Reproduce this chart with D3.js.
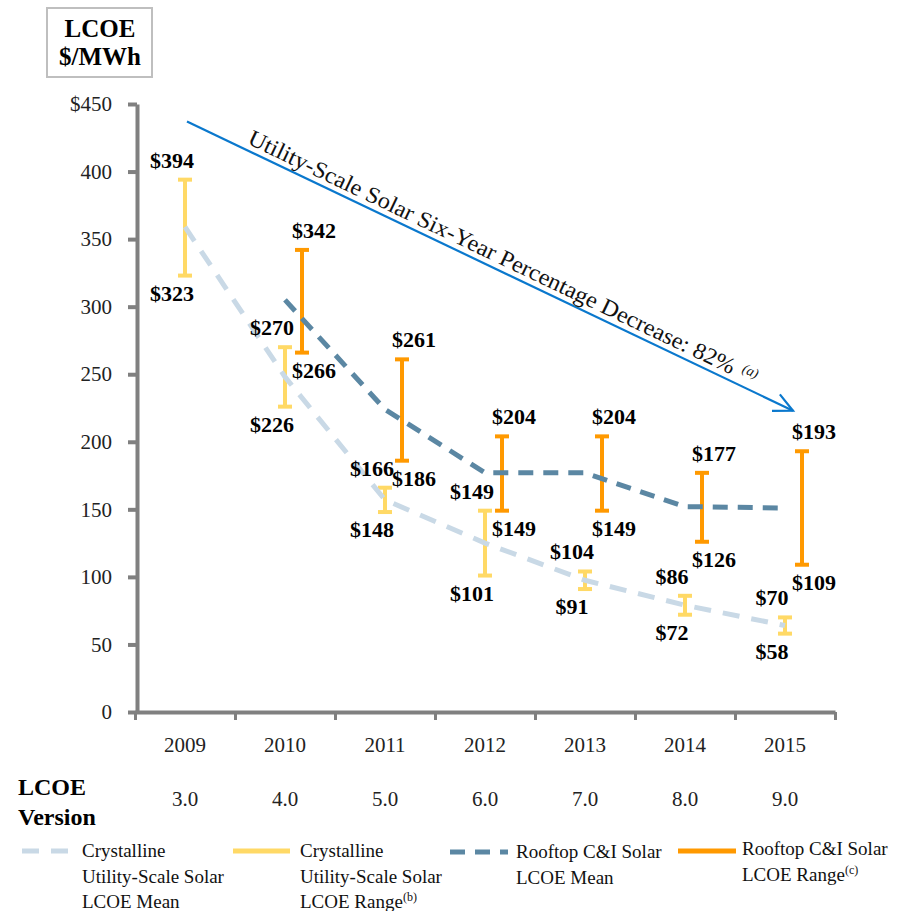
<!DOCTYPE html>
<html><head><meta charset="utf-8">
<script src="https://cdn.jsdelivr.net/npm/d3@7"></script>
<style>
body{margin:0;background:#fff;}
svg text{font-family:"Liberation Serif","Times New Roman",serif !important;}
</style></head>
<body>
<svg id="c" width="919" height="911" font-family="Liberation Serif"></svg>
<script>
const years = ["2009","2010","2011","2012","2013","2014","2015"];
const versions = ["3.0","4.0","5.0","6.0","7.0","8.0","9.0"];
const yTicks = [0,50,100,150,200,250,300,350,400,450];
const utilLow  = [323,226,148,101,91,72,58];
const utilHigh = [394,270,166,149,104,86,70];
const utilMean = [359,248,157,125,97.5,79,64];
const roofLow  = [null,266,186,149,149,126,109];
const roofHigh = [null,342,261,204,204,177,193];
const roofMean = [null,305,224,177,177,152,151];
const arrowText = "Utility-Scale Solar Six-Year Percentage Decrease: 82%";
const legendItems = [
  {lines:["Crystalline","Utility-Scale Solar","LCOE Mean"], sup:null},
  {lines:["Crystalline","Utility-Scale Solar","LCOE Range"], sup:"(b)"},
  {lines:["Rooftop C&I Solar","LCOE Mean"], sup:null},
  {lines:["Rooftop C&I Solar","LCOE Range"], sup:"(c)"}
];

const SERIF = "'Liberation Serif','Times New Roman',serif";
const C = {util:"#C9D9E6", utilBar:"#FFD966", roof:"#5B87A3", roofBar:"#FF9900", arrow:"#0A78CD", axis:"#808080"};
const svg = d3.select("#c");
const x = d3.scaleBand().domain(years).range([135,835]);
const bw = x.bandwidth();
const cx = d => x(d) + bw/2;
const y = d3.scaleLinear().domain([0,450]).range([712,104]);

// title box
svg.append("rect").attr("x",47).attr("y",8).attr("width",105).attr("height",69)
  .attr("fill","none").attr("stroke","#bfbfbf").attr("stroke-width",2);
svg.append("text").attr("x",100).attr("y",37).attr("text-anchor","middle")
  .attr("font-weight","bold").attr("font-size",25).text("LCOE");
svg.append("text").attr("x",100).attr("y",65).attr("text-anchor","middle")
  .attr("font-weight","bold").attr("font-size",25).text("$/MWh");

// y axis
const ya = svg.append("g").attr("transform","translate(137,0)")
  .call(d3.axisLeft(y).tickValues(yTicks).tickSize(9).tickSizeOuter(0).tickPadding(16)
    .tickFormat(d => d===450 ? "$450" : d));
ya.attr("font-family",SERIF);
ya.select(".domain").attr("stroke",C.axis).attr("stroke-width",4);
ya.selectAll(".tick line").attr("stroke",C.axis).attr("stroke-width",4);
ya.selectAll(".tick text").attr("font-size",21).attr("fill","#222");

// x axis boundaries
const xb = d3.scaleLinear().domain([0,7]).range([135,835]);
const xa = svg.append("g").attr("transform","translate(0,712)")
  .call(d3.axisBottom(xb).tickValues(d3.range(8)).tickSize(8).tickSizeOuter(0).tickFormat(""));
xa.select(".domain").attr("stroke",C.axis).attr("stroke-width",4);
xa.selectAll(".tick line").attr("stroke",C.axis).attr("stroke-width",3);
// year labels
const xl = svg.append("g").attr("transform","translate(0,712)")
  .call(d3.axisBottom(x).tickSize(0).tickPadding(25));
xl.attr("font-family",SERIF);
xl.select(".domain").remove();
xl.selectAll(".tick text").attr("font-size",21).attr("fill","#222");
// version labels
const vl = svg.append("g").attr("transform","translate(0,712)")
  .call(d3.axisBottom(x).tickSize(0).tickPadding(79).tickFormat((d,i)=>versions[i]));
vl.attr("font-family",SERIF);
vl.select(".domain").remove();
vl.selectAll(".tick text").attr("font-size",21).attr("fill","#222");
svg.append("text").attr("x",18).attr("y",795).attr("font-weight","bold").attr("font-size",24).text("LCOE");
svg.append("text").attr("x",18).attr("y",825).attr("font-weight","bold").attr("font-size",24).text("Version");

// range bars
function bars(low, high, color, dx, cls){
  const data = years.map((yr,i)=>({yr, lo:low[i], hi:high[i]})).filter(d=>d.lo!=null);
  const g = svg.append("g").attr("class",cls);
  const cap = 7;
  data.forEach(d=>{
    const bx = cx(d.yr)+dx;
    g.append("line").attr("x1",bx).attr("x2",bx).attr("y1",y(d.hi)).attr("y2",y(d.lo))
      .attr("stroke",color).attr("stroke-width",4);
    [d.hi,d.lo].forEach(v=>g.append("line").attr("x1",bx-cap).attr("x2",bx+cap)
      .attr("y1",y(v)).attr("y2",y(v)).attr("stroke",color).attr("stroke-width",4));
  });
  return data;
}
const ud = bars(utilLow, utilHigh, C.utilBar, 0, "ub");
const rd = bars(roofLow, roofHigh, C.roofBar, 17, "rb");

// mean lines
const line = d3.line().defined(d=>d.v!=null).x(d=>cx(d.yr)).y(d=>y(d.v));
svg.append("path").datum(years.map((yr,i)=>({yr,v:utilMean[i]})))
  .attr("d",line).attr("fill","none").attr("stroke",C.util).attr("stroke-width",5)
  .attr("stroke-dasharray","17,12");
svg.append("path").datum(years.map((yr,i)=>({yr,v:roofMean[i]})))
  .attr("d",line).attr("fill","none").attr("stroke",C.roof).attr("stroke-width",5)
  .attr("stroke-dasharray","15,10");

// value labels
function labels(data, dx, tdx){
  data.forEach(d=>{
    const bx = cx(d.yr)+dx+tdx;
    svg.append("text").attr("x",bx).attr("y",y(d.hi)-12).attr("text-anchor","middle")
      .attr("font-weight","bold").attr("font-size",22).text("$"+d.hi);
    svg.append("text").attr("x",bx).attr("y",y(d.lo)+25).attr("text-anchor","middle")
      .attr("font-weight","bold").attr("font-size",22).text("$"+d.lo);
  });
}
labels(ud, 0, -13);
labels(rd, 17, 12);

// arrow annotation
const ax0 = cx("2009")+2, ay0 = y(437), ax1 = cx("2015")+8, ay1 = y(223);
const ang = Math.atan2(ay1-ay0, ax1-ax0);
svg.append("line").attr("x1",ax0).attr("y1",ay0).attr("x2",ax1).attr("y2",ay1)
  .attr("stroke",C.arrow).attr("stroke-width",2.2);
const ah = 21, spread = 0.45;
svg.append("path").attr("d",
  `M${ax1-ah*Math.cos(ang-spread)},${ay1-ah*Math.sin(ang-spread)}L${ax1},${ay1}L${ax1-ah*Math.cos(ang+spread)},${ay1-ah*Math.sin(ang+spread)}`)
  .attr("fill","none").attr("stroke",C.arrow).attr("stroke-width",2.2);
const tg = svg.append("g").attr("transform",`translate(${ax0},${ay0}) rotate(${ang*180/Math.PI})`);
tg.append("text").attr("x",63).attr("y",-6).attr("font-size",23).attr("fill","#111")
  .attr("textLength",537).attr("lengthAdjust","spacingAndGlyphs").text(arrowText);
tg.append("text").attr("x",63+537+8).attr("y",-13).attr("font-size",14)
  .attr("font-style","italic").attr("fill","#111").text("(a)");

// legend
const legX = [[22,78,82],[233,290,300],[450,508,516],[678,736,742]];
const legY = [851,851,852,851];
const legBase = [857,857,858,855];
const legStyle = [
  {c:C.util,d:"17,12",w:5},{c:C.utilBar,d:null,w:5},{c:C.roof,d:"15,10",w:5},{c:C.roofBar,d:null,w:5}];
legendItems.forEach((it,i)=>{
  const ln = svg.append("line").attr("x1",legX[i][0]).attr("x2",legX[i][1]).attr("y1",legY[i]).attr("y2",legY[i])
    .attr("stroke",legStyle[i].c).attr("stroke-width",legStyle[i].w);
  if(legStyle[i].d) ln.attr("stroke-dasharray",legStyle[i].d);
  it.lines.forEach((t,j)=>{
    const tx = svg.append("text").attr("x",legX[i][2]).attr("y",legBase[i]+j*25.5)
      .attr("font-size",19).attr("fill","#111");
    tx.append("tspan").text(t);
    if(it.sup && j===it.lines.length-1)
      tx.append("tspan").attr("dy",-7).attr("font-size",12).text(it.sup);
  });
});
svg.selectAll("text").style("font-family",SERIF);
</script>
</body></html>
